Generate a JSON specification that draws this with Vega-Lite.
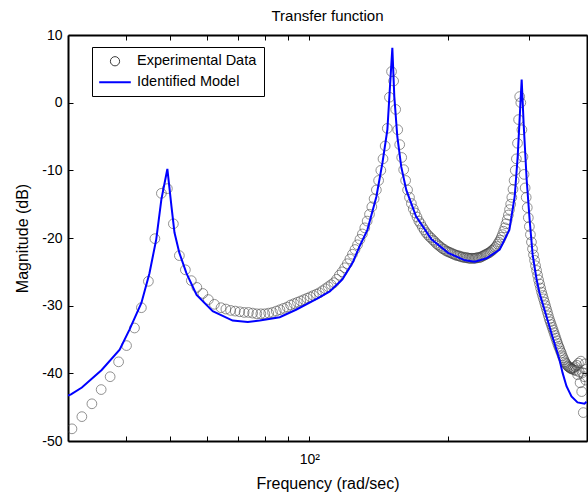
{
 "$schema": "https://vega.github.io/schema/vega-lite/v6.json",
 "width": 519,
 "height": 406,
 "autosize": {"type": "none"},
 "padding": {"left": 68, "top": 35, "right": 1, "bottom": 58},
 "background": "white",
 "config": {"font": "Liberation Sans", "view": {"stroke": null}},
 "title": {"text": "Transfer function", "fontSize": 15, "fontWeight": "normal", "color": "black", "offset": 4, "font": "Liberation Sans", "anchor": "middle"},
 "datasets": {
  "exp": [
   {"f": 30.6, "db": -48.2}, {"f": 32.15, "db": -46.4}, {"f": 33.8, "db": -44.5}, {"f": 35.4, "db": -42.4},
   {"f": 37.02, "db": -40.5}, {"f": 38.62, "db": -38.3}, {"f": 40.18, "db": -35.9}, {"f": 41.81, "db": -33.3},
   {"f": 43.27, "db": -30.3}, {"f": 44.81, "db": -26.4}, {"f": 46.29, "db": -20.1}, {"f": 47.81, "db": -13.4},
   {"f": 49.26, "db": -12.7}, {"f": 50.76, "db": -17.9}, {"f": 52.3, "db": -22.6}, {"f": 53.89, "db": -24.7},
   {"f": 55.52, "db": -26.3}, {"f": 57.07, "db": -27.3}, {"f": 58.81, "db": -28.2}, {"f": 60.44, "db": -29.1},
   {"f": 62.29, "db": -29.8},
   {"f": 64.40, "db": -30.3}, {"f": 65.97, "db": -30.5}, {"f": 67.54, "db": -30.7}, {"f": 69.12, "db": -30.8},
   {"f": 70.69, "db": -30.9}, {"f": 72.26, "db": -31.0}, {"f": 73.83, "db": -31.0}, {"f": 75.40, "db": -31.1},
   {"f": 76.97, "db": -31.2}, {"f": 78.54, "db": -31.2}, {"f": 80.11, "db": -31.2}, {"f": 81.68, "db": -31.1},
   {"f": 83.25, "db": -31.0}, {"f": 84.82, "db": -30.8}, {"f": 86.39, "db": -30.6}, {"f": 87.96, "db": -30.4},
   {"f": 89.54, "db": -30.2}, {"f": 91.11, "db": -29.9}, {"f": 92.68, "db": -29.7}, {"f": 94.25, "db": -29.5},
   {"f": 95.82, "db": -29.3}, {"f": 97.39, "db": -29.1}, {"f": 98.96, "db": -28.9}, {"f": 100.53, "db": -28.7},
   {"f": 102.10, "db": -28.5}, {"f": 103.67, "db": -28.3}, {"f": 105.24, "db": -28.1}, {"f": 106.81, "db": -27.8},
   {"f": 108.38, "db": -27.5}, {"f": 109.96, "db": -27.2}, {"f": 111.53, "db": -26.9}, {"f": 113.10, "db": -26.6},
   {"f": 114.67, "db": -26.1}, {"f": 116.24, "db": -25.5}, {"f": 117.81, "db": -25.0}, {"f": 119.38, "db": -24.4},
   {"f": 120.95, "db": -23.8}, {"f": 122.52, "db": -23.1}, {"f": 124.09, "db": -22.4}, {"f": 125.66, "db": -21.7},
   {"f": 127.23, "db": -21.0}, {"f": 128.81, "db": -20.2}, {"f": 130.38, "db": -19.4}, {"f": 131.95, "db": -18.5},
   {"f": 133.52, "db": -17.5}, {"f": 135.09, "db": -16.5}, {"f": 136.66, "db": -15.4}, {"f": 138.23, "db": -14.2},
   {"f": 139.80, "db": -12.9}, {"f": 141.37, "db": -11.5}, {"f": 142.94, "db": -10.0}, {"f": 144.51, "db": -8.3},
   {"f": 146.08, "db": -6.4}, {"f": 147.65, "db": -3.8}, {"f": 149.23, "db": 0.8}, {"f": 150.80, "db": 4.6},
   {"f": 152.37, "db": 3.2}, {"f": 153.94, "db": -1.0}, {"f": 155.51, "db": -4.0}, {"f": 157.08, "db": -6.2},
   {"f": 158.65, "db": -8.1}, {"f": 160.22, "db": -9.9}, {"f": 161.79, "db": -11.5}, {"f": 163.36, "db": -12.9},
   {"f": 164.93, "db": -14.0}, {"f": 166.50, "db": -14.9}, {"f": 168.07, "db": -15.7}, {"f": 169.65, "db": -16.3},
   {"f": 171.22, "db": -16.9}, {"f": 172.79, "db": -17.5}, {"f": 174.36, "db": -17.9}, {"f": 175.93, "db": -18.4},
   {"f": 177.50, "db": -18.8}, {"f": 179.07, "db": -19.2}, {"f": 180.64, "db": -19.5}, {"f": 182.21, "db": -19.8},
   {"f": 183.78, "db": -20.0}, {"f": 185.35, "db": -20.3}, {"f": 186.92, "db": -20.5}, {"f": 188.50, "db": -20.8},
   {"f": 190.07, "db": -21.0}, {"f": 191.64, "db": -21.2}, {"f": 193.21, "db": -21.4}, {"f": 194.78, "db": -21.6},
   {"f": 196.35, "db": -21.7}, {"f": 197.92, "db": -21.9}, {"f": 199.49, "db": -22.0}, {"f": 201.06, "db": -22.1},
   {"f": 202.63, "db": -22.2}, {"f": 204.20, "db": -22.3}, {"f": 205.77, "db": -22.4}, {"f": 207.35, "db": -22.5},
   {"f": 208.92, "db": -22.6}, {"f": 210.49, "db": -22.6}, {"f": 212.06, "db": -22.7}, {"f": 213.63, "db": -22.8},
   {"f": 215.20, "db": -22.8}, {"f": 216.77, "db": -22.9}, {"f": 218.34, "db": -22.9}, {"f": 219.91, "db": -22.9},
   {"f": 221.48, "db": -23.0}, {"f": 223.05, "db": -23.0}, {"f": 224.62, "db": -23.0}, {"f": 226.19, "db": -23.0},
   {"f": 227.77, "db": -23.0}, {"f": 229.34, "db": -23.0}, {"f": 230.91, "db": -22.9}, {"f": 232.48, "db": -22.9},
   {"f": 234.05, "db": -22.9}, {"f": 235.62, "db": -22.8}, {"f": 237.19, "db": -22.7}, {"f": 238.76, "db": -22.6},
   {"f": 240.33, "db": -22.5}, {"f": 241.90, "db": -22.4}, {"f": 243.47, "db": -22.3}, {"f": 245.04, "db": -22.2},
   {"f": 246.62, "db": -22.1}, {"f": 248.19, "db": -21.9}, {"f": 249.76, "db": -21.8}, {"f": 251.33, "db": -21.6},
   {"f": 252.90, "db": -21.4}, {"f": 254.47, "db": -21.2}, {"f": 256.04, "db": -20.9}, {"f": 257.61, "db": -20.6},
   {"f": 259.18, "db": -20.3}, {"f": 260.75, "db": -19.9}, {"f": 262.32, "db": -19.5}, {"f": 263.89, "db": -19.0},
   {"f": 265.46, "db": -18.5}, {"f": 267.04, "db": -17.9}, {"f": 268.61, "db": -17.3}, {"f": 270.18, "db": -16.6},
   {"f": 271.75, "db": -15.8}, {"f": 273.32, "db": -15.0}, {"f": 274.89, "db": -14.0}, {"f": 276.46, "db": -12.8},
   {"f": 278.03, "db": -11.5}, {"f": 279.60, "db": -10.0}, {"f": 281.17, "db": -8.3}, {"f": 282.74, "db": -6.0},
   {"f": 284.31, "db": -2.5}, {"f": 285.88, "db": 0.9}, {"f": 287.46, "db": 0.0}, {"f": 289.03, "db": -4.0},
   {"f": 290.60, "db": -8.0}, {"f": 292.17, "db": -10.6}, {"f": 293.74, "db": -12.6}, {"f": 295.31, "db": -14.0},
   {"f": 296.88, "db": -15.5}, {"f": 298.45, "db": -17.0}, {"f": 300.02, "db": -18.3}, {"f": 301.59, "db": -19.5},
   {"f": 303.16, "db": -20.6}, {"f": 304.73, "db": -21.6}, {"f": 306.31, "db": -22.5}, {"f": 307.88, "db": -23.3},
   {"f": 309.45, "db": -24.1}, {"f": 311.02, "db": -24.8}, {"f": 312.59, "db": -25.5}, {"f": 314.16, "db": -26.2},
   {"f": 315.73, "db": -26.8}, {"f": 317.30, "db": -27.4}, {"f": 318.87, "db": -28.0}, {"f": 320.44, "db": -28.5},
   {"f": 322.01, "db": -29.0}, {"f": 323.58, "db": -29.5}, {"f": 325.15, "db": -30.0}, {"f": 326.73, "db": -30.5},
   {"f": 328.30, "db": -31.0}, {"f": 329.87, "db": -31.5}, {"f": 331.44, "db": -32.0}, {"f": 333.01, "db": -32.4},
   {"f": 334.58, "db": -32.8}, {"f": 336.15, "db": -33.2}, {"f": 337.72, "db": -33.6}, {"f": 339.29, "db": -34.0},
   {"f": 340.86, "db": -34.4}, {"f": 342.43, "db": -34.8}, {"f": 344.00, "db": -35.2}, {"f": 345.58, "db": -35.6},
   {"f": 347.15, "db": -36.0}, {"f": 348.72, "db": -36.3}, {"f": 350.29, "db": -36.7}, {"f": 351.86, "db": -37.0},
   {"f": 353.43, "db": -37.4}, {"f": 355.00, "db": -37.7}, {"f": 356.57, "db": -38.0}, {"f": 358.14, "db": -38.3},
   {"f": 359.71, "db": -38.5}, {"f": 361.28, "db": -38.7}, {"f": 362.85, "db": -38.9}, {"f": 364.42, "db": -39.0},
   {"f": 366.00, "db": -39.1}, {"f": 367.57, "db": -39.2}, {"f": 369.14, "db": -39.3}, {"f": 370.71, "db": -39.3},
   {"f": 372.28, "db": -39.4}, {"f": 373.85, "db": -39.2}, {"f": 375.42, "db": -39.5}, {"f": 376.99, "db": -39.0},
   {"f": 378.56, "db": -39.6}, {"f": 380.13, "db": -38.8}, {"f": 381.70, "db": -40.2}, {"f": 383.27, "db": -38.5},
   {"f": 384.85, "db": -39.8}, {"f": 386.42, "db": -41.4}, {"f": 387.99, "db": -38.2}, {"f": 389.56, "db": -42.7},
   {"f": 391.13, "db": -39.9}, {"f": 392.70, "db": -45.8}, {"f": 394.27, "db": -40.5}, {"f": 395.84, "db": -38.6},
   {"f": 397.41, "db": -41.0}, {"f": 398.98, "db": -39.4}
  ],
  "model": [
   {"f": 30.0, "db": -43.3}, {"f": 30.45, "db": -43.1}, {"f": 32.15, "db": -42.1}, {"f": 35.49, "db": -39.5},
   {"f": 38.82, "db": -36.5}, {"f": 40.8, "db": -33.5}, {"f": 43.27, "db": -29.6}, {"f": 45.05, "db": -25.2},
   {"f": 46.6, "db": -20.2}, {"f": 47.81, "db": -14.3}, {"f": 49.26, "db": -9.8}, {"f": 50.27, "db": -15.3},
   {"f": 51.04, "db": -19.2}, {"f": 52.3, "db": -22.2}, {"f": 54.17, "db": -25.2}, {"f": 57.0, "db": -28.4},
   {"f": 61.77, "db": -30.8}, {"f": 68.23, "db": -32.2}, {"f": 73.59, "db": -32.4}, {"f": 78.11, "db": -32.2},
   {"f": 86.3, "db": -31.7}, {"f": 93.6, "db": -30.6}, {"f": 103.8, "db": -29.0}, {"f": 110.8, "db": -27.9},
   {"f": 118.0, "db": -26.1}, {"f": 124.3, "db": -23.6}, {"f": 128.4, "db": -21.3}, {"f": 133.7, "db": -18.8},
   {"f": 139.8, "db": -13.9}, {"f": 144.1, "db": -8.9}, {"f": 147.7, "db": -4.0}, {"f": 151.4, "db": 8.1},
   {"f": 152.9, "db": 0.9}, {"f": 155.2, "db": -5.0}, {"f": 158.3, "db": -9.5}, {"f": 162.3, "db": -12.9},
   {"f": 170.4, "db": -16.8}, {"f": 184.0, "db": -20.2}, {"f": 200.0, "db": -22.2}, {"f": 217.5, "db": -23.3},
   {"f": 228.5, "db": -23.5}, {"f": 242.4, "db": -23.0}, {"f": 258.7, "db": -21.7}, {"f": 271.5, "db": -18.8},
   {"f": 278.8, "db": -13.9}, {"f": 283.0, "db": -8.0}, {"f": 288.7, "db": 3.4}, {"f": 291.6, "db": -3.2},
   {"f": 296.0, "db": -11.4}, {"f": 300.4, "db": -17.3}, {"f": 305.0, "db": -22.5}, {"f": 311.0, "db": -26.1},
   {"f": 315.5, "db": -28.1}, {"f": 326.8, "db": -31.6}, {"f": 336.7, "db": -34.6}, {"f": 348.7, "db": -38.0},
   {"f": 354.0, "db": -39.9}, {"f": 361.1, "db": -41.9}, {"f": 370.2, "db": -43.4}, {"f": 381.5, "db": -44.3},
   {"f": 395.1, "db": -44.5}, {"f": 399.0, "db": -44.2}
  ]
 },
 "layer": [
  {
   "data": {"name": "exp"},
   "mark": {"type": "point", "shape": "circle", "filled": false, "size": 95, "strokeWidth": 0.8, "clip": true},
   "encoding": {
    "x": {"field": "f", "type": "quantitative",
     "scale": {"type": "log", "domain": [30, 400], "nice": false},
     "axis": {"orient": "bottom", "values": [40, 50, 60, 70, 80, 90, 100, 200, 300],
      "labelExpr": "datum.value == 100 ? '10²' : ''", "grid": false,
      "tickSize": -5, "tickColor": "black", "tickWidth": 1, "domainColor": "black", "domainWidth": 2,
      "labelPadding": 16, "labelFontSize": 14, "labelColor": "black", "labelFont": "Liberation Sans", "labelFlush": false,
      "title": "Frequency (rad/sec)", "titleFontSize": 16, "titleFontWeight": "normal", "titleColor": "black", "titleFont": "Liberation Sans", "titlePadding": 9}},
    "y": {"field": "db", "type": "quantitative",
     "scale": {"domain": [-50, 10], "nice": false},
     "axis": {"orient": "left", "values": [-50, -40, -30, -20, -10, 0, 10],
      "labelExpr": "datum.value + ''", "grid": false,
      "tickSize": -5, "tickColor": "black", "tickWidth": 1, "domainColor": "black", "domainWidth": 2,
      "labelPadding": 11, "labelFontSize": 14, "labelColor": "black", "labelFont": "Liberation Sans", "labelFlush": false,
      "title": "Magnitude (dB)", "titleFontSize": 16, "titleFontWeight": "normal", "titleColor": "black", "titleFont": "Liberation Sans", "titlePadding": 11}},
    "color": {"datum": "Experimental Data", "type": "nominal",
     "scale": {"domain": ["Experimental Data", "Identified Model"], "range": ["#3c3c3c", "#0000ff"]},
     "legend": {"title": null, "orient": "none", "legendX": 24, "legendY": 12,
      "strokeColor": "black", "fillColor": "white", "padding": 7,
      "labelFontSize": 14.5, "labelFont": "Liberation Sans", "labelColor": "black",
      "symbolSize": 1000, "labelOffset": 6, "rowPadding": 6,
      "encode": {
       "symbols": {"update": {
        "x": {"value": 16},
        "shape": {"signal": "datum.value === 'Identified Model' ? 'stroke' : 'circle'"},
        "size": {"signal": "datum.value === 'Identified Model' ? 1000 : 85"},
        "strokeWidth": {"signal": "datum.value === 'Identified Model' ? 2 : 1"},
        "fill": {"value": "transparent"}}},
       "labels": {"update": {"x": {"value": 38}}}}}}
   }
  },
  {
   "data": {"name": "model"},
   "mark": {"type": "line", "strokeWidth": 2, "clip": true},
   "encoding": {
    "x": {"field": "f", "type": "quantitative",
     "axis": {"orient": "top", "values": [40, 50, 60, 70, 80, 90, 100, 200, 300], "labels": false, "grid": false,
      "tickSize": -5, "tickColor": "black", "domainColor": "black", "domainWidth": 2, "title": null}},
    "y": {"field": "db", "type": "quantitative",
     "axis": {"orient": "right", "values": [-50, -40, -30, -20, -10, 0, 10], "labels": false, "grid": false,
      "tickSize": -5, "tickColor": "black", "domainColor": "black", "domainWidth": 2, "title": null}},
    "color": {"datum": "Identified Model", "type": "nominal",
     "legend": {"title": null, "orient": "none", "legendX": 24, "legendY": 12,
      "strokeColor": "black", "fillColor": "white", "padding": 7,
      "labelFontSize": 14.5, "labelFont": "Liberation Sans", "labelColor": "black",
      "symbolSize": 1000, "labelOffset": 6, "rowPadding": 6,
      "encode": {
       "symbols": {"update": {
        "x": {"value": 16},
        "shape": {"signal": "datum.value === 'Identified Model' ? 'stroke' : 'circle'"},
        "size": {"signal": "datum.value === 'Identified Model' ? 1000 : 85"},
        "strokeWidth": {"signal": "datum.value === 'Identified Model' ? 2 : 1"},
        "fill": {"value": "transparent"}}},
       "labels": {"update": {"x": {"value": 38}}}}}}
   }
  }
 ],
 "resolve": {"axis": {"x": "independent", "y": "independent"}}
}
